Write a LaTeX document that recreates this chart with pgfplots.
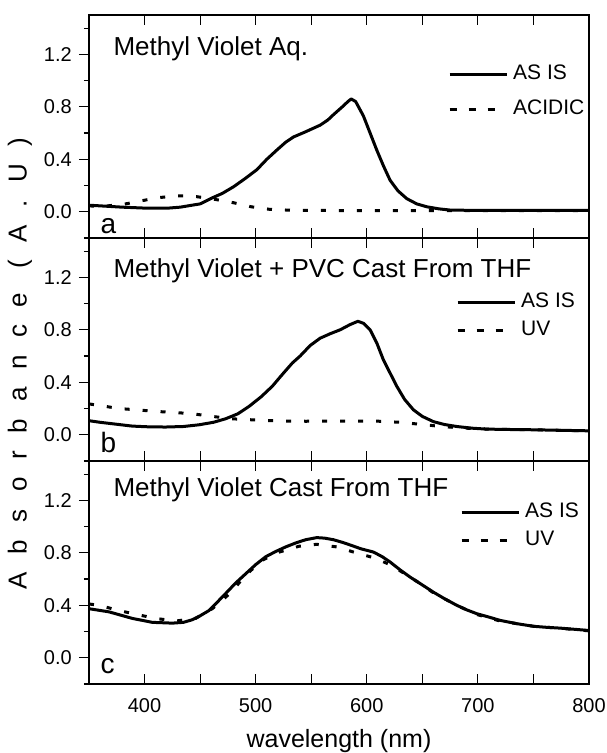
\documentclass[border=0pt]{standalone}
\usepackage{fontspec}
\setmainfont{Liberation Sans}
\usepackage{pgfplots}
\pgfplotsset{compat=1.18}

\newcommand\g{\hspace{17.5pt}}

\tikzset{
  ttl/.style={anchor=base west, font=\fontsize{26}{30}\selectfont},
  plab/.style={anchor=base west, font=\fontsize{28}{30}\selectfont},
}

\pgfplotsset{
  panel/.style={
    width=500pt, height=223pt, scale only axis,
    xmin=350, xmax=800, ymin=-0.2, ymax=1.5,
    xtick={350,400,...,800},
    ytick={0,0.4,0.8,1.2}, minor ytick={-0.2,0.2,0.6,1.0,1.4},
    tick align=inside, ytick pos=left,
    major tick length=10pt, minor tick length=5pt,
    major y tick style={xshift=-10pt},
    minor y tick style={xshift=-5pt},
    axis line style={line width=1.2pt},
    every tick/.style={black, line width=1.2pt},
    tick label style={font=\fontsize{20}{24}\selectfont, inner sep=0pt},
    /pgf/number format/assume math mode=true,
    yticklabel style={inner sep=0pt, /pgf/number format/.cd, fixed, fixed zerofill, precision=1},
    xticklabel style={inner sep=0pt},
    yticklabel shift=17pt,
    xticklabel shift=14pt,
    legend cell align=left,
    legend image code/.code={\draw[#1] (0pt,0pt) -- (57pt,0pt);},
    legend style={draw=none, fill=none, anchor=north west, inner sep=0pt,
      font=\fontsize{21}{24}\selectfont, column sep=5pt,
      nodes={inner sep=0pt, text height=15pt, text depth=5pt}},
  },
  solidline/.style={black, line width=3pt, line join=round},
  dotline/.style={black, line width=3pt, dash pattern=on 5pt off 13pt,
    legend image post style={dash pattern=on 7pt off 12pt}},
}

\begin{document}
\begin{tikzpicture}
\useasboundingbox (-89pt,-69pt) rectangle (518pt,684pt);

% panel a
\begin{axis}[panel, at={(0pt,446pt)}, xticklabels={},
  legend style={at={(rel axis cs:0.718,0.778)}, row sep=15pt}]
\addplot[solidline] coordinates {
(350,0.05) (360,0.045) (380,0.035) (400,0.028) (420,0.027) (432,0.035)
(450,0.06) (462,0.11) (470,0.14) (480,0.19) (490,0.25) (501,0.32)
(510,0.40) (519,0.47) (527,0.53) (534,0.57) (545,0.61) (558,0.66)
(565,0.70) (570,0.74) (578,0.80) (583,0.84) (586,0.86) (590,0.84)
(597,0.73) (603,0.60) (609,0.47) (615,0.35) (621,0.24) (628,0.16)
(636,0.10) (645,0.06) (654,0.038) (665,0.022) (675,0.013) (700,0.01)
(750,0.01) (800,0.01)};
\addlegendentry{AS IS}
\addplot[dotline] coordinates {
(350,0.045) (360,0.04) (380,0.055) (395,0.08) (412,0.107) (429,0.122)
(440,0.12) (447,0.115) (463,0.095) (480,0.069) (496,0.038) (513,0.018)
(531,0.012) (560,0.01) (600,0.008) (700,0.008) (800,0.008)};
\addlegendentry{ACIDIC}
\node[ttl] at (rel axis cs:0.042,0.8175) {Methyl Violet Aq.};
\node[plab] at (rel axis cs:0.016,0.022) {a};
\end{axis}

% panel b
\begin{axis}[panel, at={(0pt,223pt)}, xticklabels={},
  ylabel={A\g b\g s\g o\g r\g b\g a\g n\g c\g e\g\hspace{7pt}(\g A\g .\g U\g )},
  every axis y label/.style={at={(rel axis cs:0,0.5)}, rotate=90, anchor=center,
    yshift=69pt, xshift=-14pt, font=\fontsize{26}{30}\selectfont},
  legend style={at={(rel axis cs:0.734,0.7556)}, row sep=8pt}]
\addplot[solidline] coordinates {
(350,0.107) (360,0.095) (375,0.08) (389,0.066) (405,0.06) (419,0.059)
(435,0.063) (449,0.076) (462,0.095) (473,0.122) (484,0.16) (494,0.216)
(505,0.29) (515,0.37) (524,0.46) (533,0.547) (540,0.60) (549,0.68)
(558,0.736) (567,0.77) (576,0.80) (585,0.84) (592,0.865) (597,0.85)
(603,0.80) (609,0.70) (615,0.57) (621,0.47) (627,0.37) (634,0.27)
(642,0.19) (650,0.14) (660,0.10) (670,0.078) (681,0.063) (695,0.05)
(708,0.043) (730,0.04) (750,0.038) (775,0.034) (800,0.03)};
\addlegendentry{AS IS}
\addplot[dotline] coordinates {
(350,0.235) (359,0.224) (377,0.20) (393,0.19) (410,0.178) (427,0.17)
(443,0.16) (461,0.14) (478,0.122) (494,0.115) (510,0.109) (528,0.104)
(545,0.103) (580,0.104) (612,0.103) (630,0.095) (648,0.08) (665,0.065)
(680,0.055) (700,0.045) (730,0.04) (760,0.036) (800,0.03)};
\addlegendentry{UV}
\node[ttl] at (rel axis cs:0.042,0.824) {Methyl Violet + PVC Cast From THF};
\node[plab] at (rel axis cs:0.016,0.036) {b};
\end{axis}

% panel c
\begin{axis}[panel, at={(0pt,0pt)},
  xticklabels={,400,,500,,600,,700,,800},
  xlabel={wavelength (nm)},
  every axis x label/.style={at={(rel axis cs:0.5,0)}, anchor=base,
    yshift=-63pt, font=\fontsize{25}{30}\selectfont},
  legend style={at={(rel axis cs:0.742,0.814)}, row sep=8pt}]
\addplot[solidline] coordinates {
(350,0.374) (368,0.35) (389,0.30) (407,0.27) (425,0.264) (435,0.27)
(443,0.29) (450,0.32) (458,0.36) (465,0.42) (473,0.49) (482,0.57)
(491,0.64) (500,0.71) (509,0.77) (518,0.81) (527,0.845) (536,0.875)
(545,0.90) (555,0.916) (562,0.912) (570,0.90) (578,0.88) (585,0.86)
(595,0.83) (606,0.806) (614,0.77) (621,0.73) (630,0.67) (639,0.615)
(650,0.555) (660,0.50) (670,0.45) (681,0.40) (690,0.365) (699,0.336)
(710,0.31) (720,0.285) (735,0.26) (750,0.24) (762,0.232) (774,0.226)
(787,0.217) (800,0.208)};
\addlegendentry{AS IS}
\addplot[dotline] coordinates {
(350,0.41) (359,0.40) (377,0.36) (393,0.33) (410,0.30) (428,0.28)
(446,0.30) (461,0.374) (470,0.44) (478,0.50) (490,0.62) (505,0.74)
(521,0.805) (539,0.85) (555,0.865) (573,0.845) (588,0.806) (606,0.763)
(621,0.71) (639,0.615) (650,0.555) (660,0.495) (681,0.40) (699,0.33)
(720,0.28) (750,0.24) (774,0.225) (800,0.205)};
\addlegendentry{UV}
\node[ttl] at (rel axis cs:0.042,0.84) {Methyl Violet Cast From THF};
\node[plab] at (rel axis cs:0.016,0.049) {c};
\end{axis}
\end{tikzpicture}
\end{document}
